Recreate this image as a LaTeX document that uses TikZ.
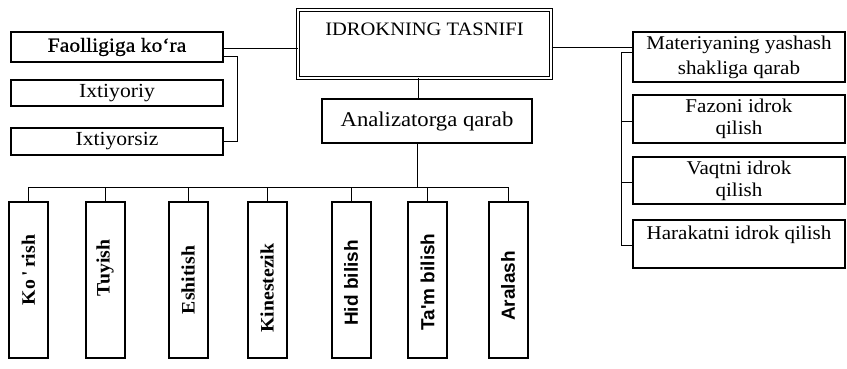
\documentclass[tikz,border=0pt]{standalone}
\usepackage{fontspec}
\setmainfont{Liberation Serif}[FakeStretch=1.08]
\newfontfamily\semib{Liberation Serif}[FakeStretch=1.08,FakeBold=0.8]
\newfontfamily\serifb{Liberation Serif Bold}[FakeStretch=1.04]
\newfontfamily\sansb{Liberation Sans Bold}
\begin{document}
\begin{tikzpicture}[x=1pt,y=-1pt,
  box/.style={draw,line width=1.1pt,inner sep=0pt,align=center,font=\fontsize{20}{22}\selectfont},
  rbox/.style={box,minimum width=212pt,font=\fontsize{19.5}{22}\selectfont},
  vbox/.style={draw,line width=2pt,inner sep=0pt,minimum width=39pt,minimum height=156pt},
  vtext/.style={rotate=90,inner sep=0pt,font=\serifb\fontsize{19}{22}\selectfont},
  vstext/.style={rotate=90,inner sep=0pt,font=\sansb\fontsize{19}{22}\selectfont},
  conn/.style={line width=1pt}]
\useasboundingbox (0,0) rectangle (847,369);
% top
\node[draw,double,double distance=1.6pt,line width=1pt,inner sep=6pt,minimum width=253pt,
  text height=20pt,text depth=36pt,font=\fontsize{19}{22}\selectfont] (top) at (424.5,44) {IDROKNING TASNIFI};
% left
\node[box,minimum width=212pt,minimum height=30pt,font=\semib\fontsize{20}{22}\selectfont] (fao) at (117,47) {Faolligiga ko‘ra};
\node[box,minimum width=212pt,minimum height=26pt] (ixt) at (117,93) {Ixtiyoriy};
\node[box,minimum width=212pt,minimum height=27pt] (ixs) at (117,141.5) {Ixtiyorsiz};
% analizator
\node[box,minimum width=210pt,minimum height=44pt,font=\fontsize{21}{22}\selectfont] (ana) at (427,121) {Analizatorga qarab};
% right
\node[rbox,minimum height=50pt,font=\fontsize{19.5}{25}\selectfont] (mat) at (739,57) {Materiyaning yashash\\shakliga qarab};
\node[rbox,minimum height=48pt] (faz) at (739,119) {Fazoni idrok\\qilish};
\node[rbox,minimum height=47pt] (vaq) at (739,180.5) {Vaqtni idrok\\qilish};
\node[rbox,inner ysep=4pt,text height=15pt,text depth=25pt] (har) at (739,244) {Harakatni idrok qilish};
% vertical boxes
\node[vbox] (k1) at (28.5,280) {};
\node[vbox] (k2) at (105,280) {};
\node[vbox] (k3) at (188,280) {};
\node[vbox] (k4) at (267,280) {};
\node[vbox] (k5) at (351,280) {};
\node[vbox] (k6) at (427.5,280) {};
\node[vbox] (k7) at (508,280) {};
\node[vtext] (t1) at ([yshift=10pt]k1.center) {Ko\,'\,rish};
\node[vtext] (t2) at ([yshift=12pt]k2.center) {Tuyish};
\node[vtext] (t3) at ([yshift=0pt]k3.center) {Eshitish};
\node[vtext] (t4) at ([yshift=-8pt]k4.center) {Kinestezik};
\node[vstext] (t5) at ([yshift=-3pt]k5.center) {Hid bilish};
\node[vstext] (t6) at ([yshift=-2pt]k6.center) {Ta'm bilish};
\node[vstext] (t7) at ([yshift=-6pt]k7.center) {Aralash};
% connectors
\draw[conn] ([yshift=-2pt]fao.east) -- ([yshift=-5pt]top.west);
\draw[conn] ([yshift=-10pt]fao.east) -- ++(14,0) |- (ixs.east);
\draw[conn] ([yshift=-4pt]top.east) -- ([yshift=9pt]mat.west);
\draw[conn] ([yshift=4pt]mat.west) -- ++(-11,0) |- ([yshift=-1pt]har.west);
\draw[conn] ([yshift=-3pt]faz.west) -- ++(-11,0);
\draw[conn] ([yshift=-1.5pt]vaq.west) -- ++(-11,0);
\draw[conn] ([xshift=-6.5pt]top.south) -- ([xshift=-9pt]ana.north);
\coordinate (bus) at (0,187);
\draw[conn] ([xshift=-10pt]ana.south) -- ([xshift=-10pt]ana.south |- bus);
\draw[conn] (k1.north) -- (k1.north |- bus) -- (k7.north |- bus) -- (k7.north);
\foreach \k in {k2,k3,k4,k5,k6} \draw[conn] (\k.north |- bus) -- (\k.north);
\end{tikzpicture}
\end{document}
